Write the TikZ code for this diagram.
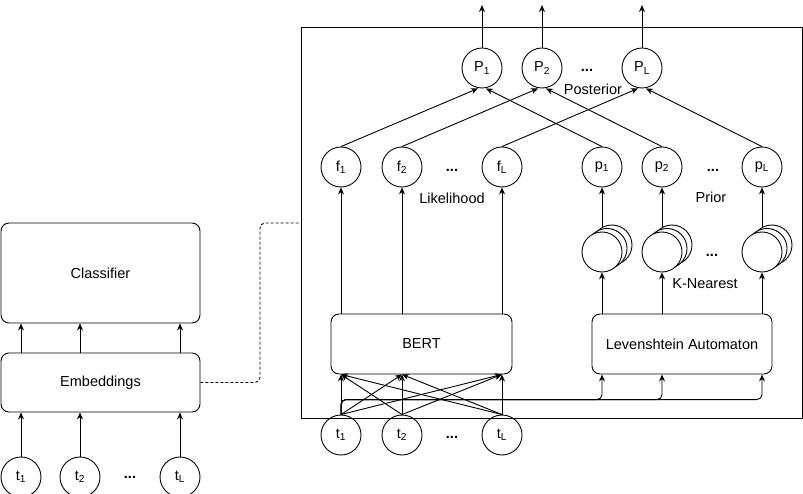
\documentclass[tikz,border=0pt]{standalone}
\usepackage{fontspec}
\setmainfont{Liberation Sans}
\usetikzlibrary{
    arrows.meta,
    calc,
    positioning
}

\tikzset{
    tok/.style={circle, draw, minimum size=40pt, inner sep=0pt},
    blk/.style={draw, rounded corners=8pt, inner sep=0pt},
    >={Stealth[length=7pt, width=6pt]}
}

\begin{document}
\begin{tikzpicture}[x=1pt, y=-1pt, line width=0.9pt, font=\fontsize{14.5}{17}\selectfont]
    \useasboundingbox (0,0) rectangle (803,494);
    % left: classifier on embeddings
    \node[blk, minimum width=199pt, minimum height=100pt] (cls) at (100.5, 273) {Classifier};
    \node[blk, minimum width=199pt, minimum height=59pt] (emb) at (100.5, 382.5) {Embeddings};
    \node[tok] (lt1) at (21, 477) {t\textsubscript{1}};
    \node[tok] (lt2) at (80, 477) {t\textsubscript{2}};
    \node[tok] (ltL) at (180, 477) {t\textsubscript{L}};
    \node (ldots) at (130, 477) {\textbf{...}};
    \draw
    (lt1) edge[->] (lt1 |- emb.south)
    (lt2) edge[->] (lt2 |- emb.south)
    (ltL) edge[->] (ltL |- emb.south)
    (lt1 |- emb.north) edge[->] (lt1 |- cls.south)
    (lt2 |- emb.north) edge[->] (lt2 |- cls.south)
    (ltL |- emb.north) edge[->] (ltL |- cls.south);

    % right: detail frame
    \node[draw, minimum width=501pt, minimum height=391pt, inner sep=0pt] (fr) at (551.5, 222.5) {};
    \draw[dash pattern=on 3pt off 2pt, rounded corners=5pt]
    (emb.east) -- (260, 382.5) -- (260, 223) -- (fr.west |- 0, 223);

    % posterior
    \node[tok] (Po1) at (482, 68) {P\textsubscript{1}};
    \node[tok] (Po2) at (542, 68) {P\textsubscript{2}};
    \node[tok] (PoL) at (642, 68) {P\textsubscript{L}};
    \node (podots) at (587, 70) {\textbf{...}};
    \node (post) at (593, 89) {Posterior};
    \coordinate (o1) at (482, 5);
    \coordinate (o2) at (542, 5);
    \coordinate (oL) at (642, 5);

    % likelihood and prior
    \node[tok] (f1) at (341, 167) {f\textsubscript{1}};
    \node[tok] (f2) at (402, 167) {f\textsubscript{2}};
    \node[tok] (fL) at (502, 167) {f\textsubscript{L}};
    \node (fdots) at (452, 170) {\textbf{...}};
    \node (lik) at (452, 198) {Likelihood};
    \node[tok] (p1) at (602, 167) {p\textsubscript{1}};
    \node[tok] (p2) at (662, 167) {p\textsubscript{2}};
    \node[tok] (pL) at (762, 167) {p\textsubscript{L}};
    \node (pdots) at (713, 170) {\textbf{...}};
    \node (prior) at (711, 197) {Prior};

    % k-nearest stacks
    \foreach \n/\x in {k1/602, k2/662, kL/762} {
        \node[tok, fill=white] (\n-c) at (\x+10, 245) {};
        \node[tok, fill=white] (\n-b) at (\x+5, 248.5) {};
        \node[tok, fill=white] (\n) at (\x, 252) {};
    }
    \node (kdots) at (712, 255) {\textbf{...}};
    \node (knn) at (705, 284) {K-Nearest};

    % encoders
    \node[blk, minimum width=181pt, minimum height=60pt] (bert) at (421.5, 344) {BERT};
    \node[blk, minimum width=180pt, minimum height=60pt] (lev) at (682, 344) {Levenshtein Automaton};

    % tokens
    \node[tok] (t1) at (341, 435) {t\textsubscript{1}};
    \node[tok] (t2) at (402, 435) {t\textsubscript{2}};
    \node[tok] (tL) at (502, 435) {t\textsubscript{L}};
    \node (tdots) at (452, 437) {\textbf{...}};

    \draw
    (Po1) edge[->] (o1)
    (Po2) edge[->] (o2)
    (PoL) edge[->] (oL)
    (f1.north) edge[->] ([xshift=-4pt]Po1.south)
    (f2.north) edge[->] ([xshift=-4pt]Po2.south)
    (fL.north) edge[->] ([xshift=-4pt]PoL.south)
    (p1.north) edge[->] ([xshift=4pt]Po1.south)
    (p2.north) edge[->] ([xshift=4pt]Po2.south)
    (pL.north) edge[->] ([xshift=4pt]PoL.south)
    (f1 |- bert.north) edge[->] (f1)
    (f2 |- bert.north) edge[->] (f2)
    (fL |- bert.north) edge[->] (fL)
    ([yshift=5pt]k1.north) edge[->] (p1)
    ([yshift=5pt]k2.north) edge[->] (p2)
    ([yshift=5pt]kL.north) edge[->] (pL)
    (k1 |- lev.north) edge[->] (k1)
    (k2 |- lev.north) edge[->] (k2)
    (kL |- lev.north) edge[->] (kL);

    % every token feeds BERT; the first one runs on to the automaton
    \foreach \s in {t1, t2, tL}
        \foreach \d in {t1, t2, tL}
            \draw[->] (\s.north) -- (\d |- bert.south);
    \foreach \k in {k1, k2, kL}
        \draw[->, rounded corners=5pt] (t1.north) -- ($(t1.north)+(0,-15)$) -| (\k |- lev.south);
\end{tikzpicture}
\end{document}
